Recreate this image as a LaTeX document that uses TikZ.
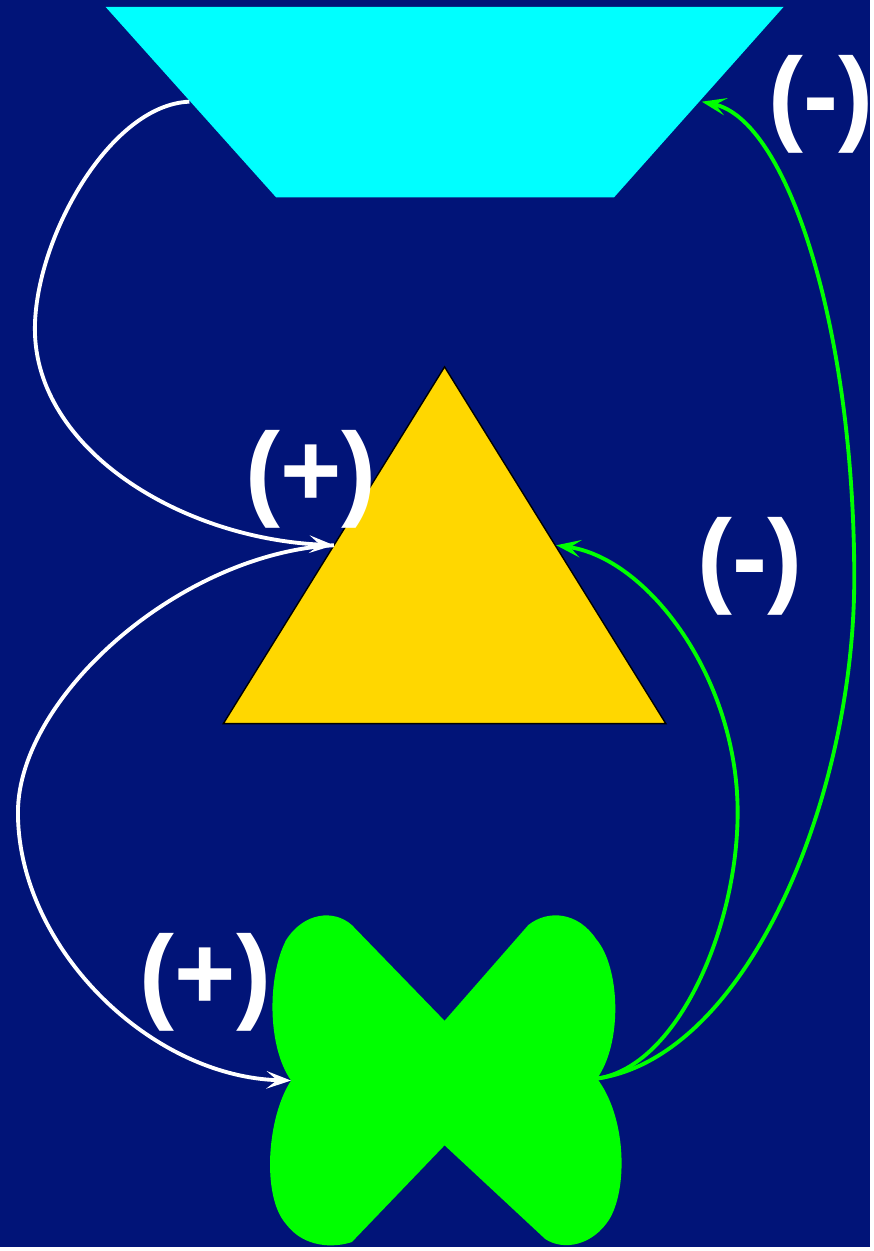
\documentclass[tikz,border=0pt]{standalone}
\usepackage{fontspec}
\setmainfont{Liberation Sans}
\usetikzlibrary{arrows.meta}
\definecolor{bgblue}{RGB}{1,20,120}
\definecolor{gold}{RGB}{255,215,0}
\definecolor{lime}{RGB}{0,255,0}
\definecolor{aqua}{RGB}{0,255,255}
\begin{document}
\begin{tikzpicture}
  [x=0.02cm,y=-0.02cm,
   sign/.style={text=white,font=\fontsize{60}{64}\selectfont\bfseries,inner sep=0pt},
   link/.style={line width=2.2pt,-{Stealth[length=14pt,width=10pt,inset=6pt]}}]
  \fill[bgblue] (0,0) rectangle (873,1251);

  % the three shapes
  \fill[aqua] (106,7) -- (786,7) -- (616,198) -- (277,198) -- cycle;
  \filldraw[fill=gold,draw=black,line width=0.8pt] (446,368) -- (668,726) -- (224,726) -- cycle;
  \fill[lime] (446,1024) -- (353,928) .. controls (335,912) and (305,915) .. (287,943)
    .. controls (268,980) and (268,1050) .. (292,1084)
    .. controls (268,1120) and (262,1200) .. (287,1228)
    .. controls (305,1252) and (335,1252) .. (353,1246) -- (446,1149) -- (547,1243)
    .. controls (565,1255) and (595,1250) .. (612,1222)
    .. controls (630,1190) and (628,1120) .. (599,1082)
    .. controls (625,1045) and (622,970) .. (598,942)
    .. controls (580,915) and (550,912) .. (530,928) -- cycle;

  \coordinate (capL) at (190,102);
  \coordinate (capR) at (704,102);
  \coordinate (triL) at (335,547);
  \coordinate (triR) at (558,547);
  \coordinate (crossL) at (292,1084);
  \coordinate (crossR) at (599,1082);

  \node[sign] (p1) at (312,481) {(+)};
  \node[sign] (m1) at (824,105) {(-)};
  \node[sign] (m2) at (752,568) {(-)};
  \node[sign] (p2) at (206,985) {(+)};

  \draw[link,white] (capL) .. controls (110,105) and (35,240) .. (35,330)
    .. controls (35,450) and (180,540) .. (triL);
  \draw[link,white] (triL) .. controls (180,555) and (18,700) .. (18,815)
    .. controls (18,950) and (150,1080) .. (crossL);
  \draw[link,lime] (crossR) .. controls (680,1070) and (740,930) .. (740,815)
    .. controls (740,680) and (650,560) .. (triR);
  \draw[link,lime] (crossR) .. controls (750,1060) and (857,800) .. (857,580)
    .. controls (857,330) and (790,120) .. (capR);
\end{tikzpicture}
\end{document}
